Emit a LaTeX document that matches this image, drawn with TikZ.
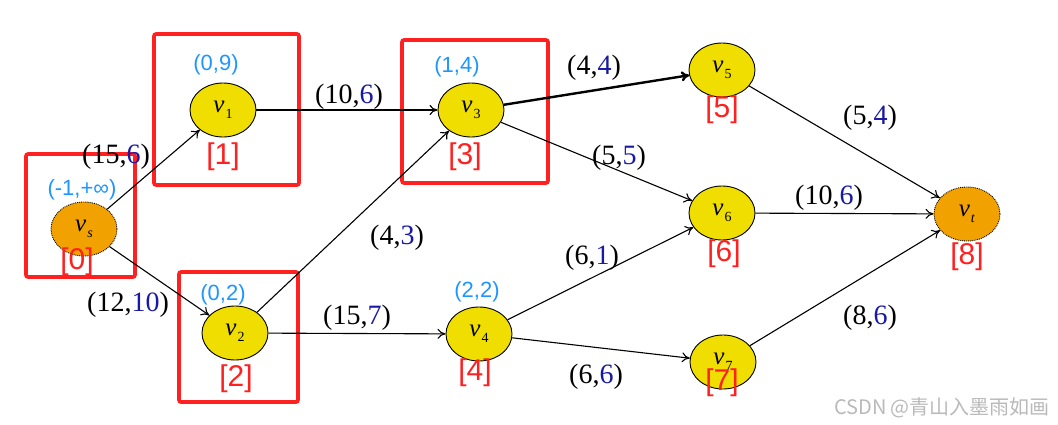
\documentclass[tikz,border=0pt]{standalone}
\usepackage{fontspec}
\setmainfont{Liberation Serif}
\newfontfamily\labfont{Liberation Sans}
\newfontfamily\cjkfont{Noto Sans CJK SC}
\usetikzlibrary{shapes.geometric, arrows.meta}
\newcommand{\vn}[1]{\textit{v}\kern1pt\raisebox{-0.5ex}{\fontsize{14}{14}\selectfont #1}}

\begin{document}
\begin{tikzpicture}[x=1pt, y=-1pt]
    \definecolor{cyel}{RGB}{240,222,0}
    \definecolor{corg}{RGB}{242,162,0}
    \definecolor{cblue}{RGB}{30,150,255}
    \definecolor{cflow}{RGB}{25,25,165}
    \definecolor{cred}{RGB}{255,32,32}
    \definecolor{cwm}{RGB}{185,185,185}

    \tikzstyle{vert} = [ellipse, draw, line width=0.9pt, fill=cyel, minimum width=66pt, minimum height=54pt, inner sep=0pt, font=\fontsize{25}{25}\selectfont]
    \tikzstyle{term} = [vert, fill=corg, densely dotted]
    \tikzstyle{tran} = [-{To[length=8pt, width=10pt]}, line width=1.1pt]
    \tikzstyle{wt}   = [inner sep=1pt, font=\fontsize{28}{28}\selectfont]
    \tikzstyle{lab}  = [inner sep=1pt, text=cblue, font=\labfont\fontsize{22}{22}\selectfont]
    \tikzstyle{idx}  = [inner sep=1pt, text=cred, font=\labfont\fontsize{30}{30}\selectfont]
    \tikzstyle{sel}  = [draw=cred, line width=3.6pt, rounded corners=2pt]

    \useasboundingbox (0,0) rectangle (1058,424);

    % Rectangles around the visited vertices
    \foreach \xa/\ya/\xb/\yb in {26/154/135/277, 154/34/299/185, 179/272/298/402, 402/40/548/183}
        \draw[sel] (\xa,\ya) rectangle (\xb,\yb);

    % Vertices
    \node[term] (vs) at (84,229) {\vn{\textit{s}}};
    \foreach \n/\x/\y in {1/223/110, 2/235/333, 3/471/110, 4/479/334, 5/722/70, 6/722/213, 7/723/362}
        \node[vert] (v\n) at (\x,\y) {\vn{\n}};
    \node[term] (vt) at (967,214) {\vn{\textit{t}}};

    % Arcs
    \foreach \a/\b in {vs/v1, vs/v2, v1/v3, v2/v3, v2/v4, v3/v6, v4/v6, v4/v7, v5/vt, v6/vt, v7/vt}
        \draw[tran] (\a) -- (\b);
    \draw[tran, line width=2.4pt] (v3) -- (v5);

    % Capacity and flow of each arc
    \foreach \nm/\x/\y/\c/\f in {sa/116/157/15/6, sb/128/305/12/10, ac/349/97/10/6, bc/397/238/4/3,
                                 bd/357/318/15/7, ce/594/68/4/4, cf/619/158/5/5, df/592/258/6/1,
                                 dg/596/377/6/6, et/870/118/5/4, ft/829/198/10/6, gt/870/318/8/6}
        \node[wt] (w\nm) at (\x,\y) {(\c,\textcolor{cflow}{\f})};

    % Labels of the vertices
    \foreach \nm/\x/\y/\t in {s/82/190/{(-1,+∞)}, 1/216/65/{(0,9)}, 2/223/295/{(0,2)},
                              3/457/67/{(1,4)}, 4/477/292/{(2,2)}}
        \node[lab] (l\nm) at (\x,\y) {\t};

    % Order of the vertices
    \foreach \n/\x/\y in {0/77/262, 1/223/157, 2/236/379, 3/465/157, 4/475/373,
                          5/722/110, 6/724/254, 7/722/383, 8/967/257}
        \node[idx] (i\n) at (\x,\y) {[\n]};

    \node[text=cwm, font=\cjkfont\fontsize{20}{20}\selectfont] (wm) at (942,408) {CSDN @青山入墨雨如画};
\end{tikzpicture}
\end{document}
